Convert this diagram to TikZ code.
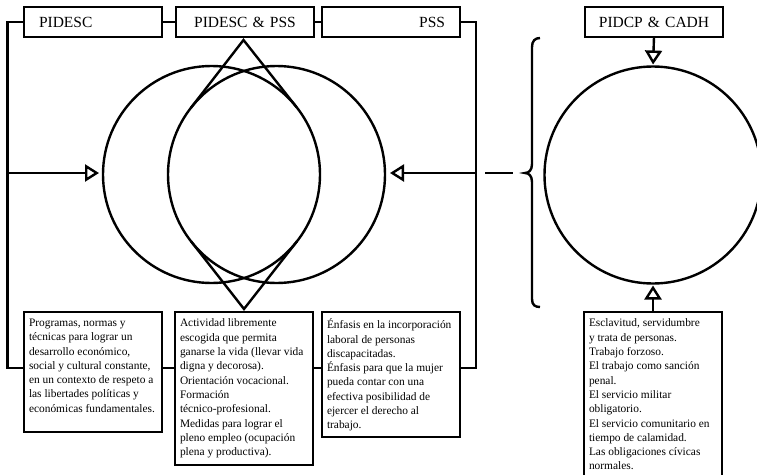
\documentclass[tikz,border=0pt]{standalone}
\usepackage{fontspec}
\setmainfont{Liberation Serif}
\usetikzlibrary{arrows.meta,calc}
\newcommand{\bxtext}[2]{\parbox[t][#1][t]{128pt}{\raggedright #2}}
\begin{document}
\begin{tikzpicture}[x=1pt,y=-1pt,
  lbl/.style={draw, line width=2.8pt, minimum height=30pt,
    inner ysep=0pt, outer sep=0pt, anchor=north west,
    font=\fontsize{15.5}{18}\selectfont},
  lblside/.style={lbl, text width=108pt, inner xsep=15pt},
  lblmid/.style={lbl, text width=128pt, inner xsep=5pt, align=center},
  txt/.style={draw, line width=2.8pt, inner xsep=5pt, inner ysep=7pt, outer sep=0pt,
    anchor=north west, font=\fontsize{11.4}{14.3}\selectfont},
  ring/.style={circle, draw, line width=2.4pt, minimum size=217pt, inner sep=0pt, outer sep=0pt},
  conn/.style={line width=2.4pt},
  opentip/.style={line width=2.4pt, -{Triangle[open, length=14pt, width=17pt, line width=2.4pt]}},
]
\useasboundingbox (0,0) rectangle (757,474);

% top labels
\node[lblside, align=left]  (t1) at (24,7)  {PIDESC};
\node[lblmid]               (t2) at (176,7) {PIDESC \& PSS};
\node[lblside, align=right] (t3) at (322,7) {PSS};
\node[lblmid]               (t4) at (585,7) {PIDCP \& CADH};

% circles
\node[ring] (cL) at (211.5,174.5) {};
\node[ring] (cR) at (276.5,174.5) {};
\node[ring] (cP) at (653,175) {};

% bottom text boxes
\node[txt] (b1) at (24,312) {\bxtext{106pt}{Programas, normas y\\
técnicas para lograr un\\
desarrollo económico,\\
social y cultural constante,\\
en un contexto de respeto a\\
las libertades políticas y\\
económicas fundamentales.}};
\node[txt] (b2) at (175,312) {\bxtext{139pt}{Actividad libremente\\
escogida que permita\\
ganarse la vida (llevar vida\\
digna y decorosa).\\
Orientación vocacional.\\
Formación\\
técnico-profesional.\\
Medidas para lograr el\\
pleno empleo (ocupación\\
plena y productiva).}};
\node[txt] (b3) at (322,312) {\bxtext{111pt}{Énfasis en la incorporación\\
laboral de personas\\
discapacitadas.\\
Énfasis para que la mujer\\
pueda contar con una\\
efectiva posibilidad de\\
ejercer el derecho al\\
trabajo.}};
\node[txt] (b4) at (584,312) {\bxtext{154pt}{Esclavitud, servidumbre\\
y trata de personas.\\
Trabajo forzoso.\\
El trabajo como sanción\\
penal.\\
El servicio militar\\
obligatorio.\\
El servicio comunitario en\\
tiempo de calamidad.\\
Las obligaciones cívicas\\
normales.}};

% helper coordinates
\coordinate (lx) at (7.5,368);
\coordinate (rx) at (476,368);
\coordinate (la) at (7.5,173);
\coordinate (ra) at (476,173);
\coordinate (d1) at (485,173);
\coordinate (d2) at (513,173);
\coordinate (apT) at (243.5,40);
\coordinate (apB) at (244,309);

% frame connectors
\draw[conn] (t1.east) -- (t2.west);
\draw[conn] (t2.east) -- (t3.west);
\draw[conn] (t1.west) -| (lx) -- (lx -| b1.west);
\draw[conn] (t3.east) -| (rx) -- (rx -| b3.east);
\draw[conn] (lx -| b1.east) -- (lx -| b2.west);
\draw[conn] (lx -| b2.east) -- (lx -| b3.west);

% arrows
\draw[opentip, shorten >=4pt] (la) -- (la -| cL.west);
\draw[opentip, shorten >=5pt] (ra) -- (ra -| cR.east);
\draw[opentip, shorten >=2pt] (t4.south) -- (cP.north);
\draw[opentip, shorten >=2pt] (b4.north) -- (cP.south);

% dash
\draw[conn] (d1) -- (d2);

% brace
\draw[line width=2.4pt] (540,38) .. controls (535,38) and (532,41) .. (532,47) -- (532,164)
  .. controls (532,170) and (529,173) .. (525,173)
  .. controls (529,173) and (532,176) .. (532,182) -- (532,299)
  .. controls (532,305) and (535,307) .. (540,307);

% tangent triangles
\draw[conn, line join=miter] (tangent cs:node=cR,point={(apT)},solution=1) -- (apT) -- (tangent cs:node=cL,point={(apT)},solution=2);
\draw[conn, line join=miter] (tangent cs:node=cR,point={(apB)},solution=2) -- (apB) -- (tangent cs:node=cL,point={(apB)},solution=1);
\end{tikzpicture}
\end{document}
